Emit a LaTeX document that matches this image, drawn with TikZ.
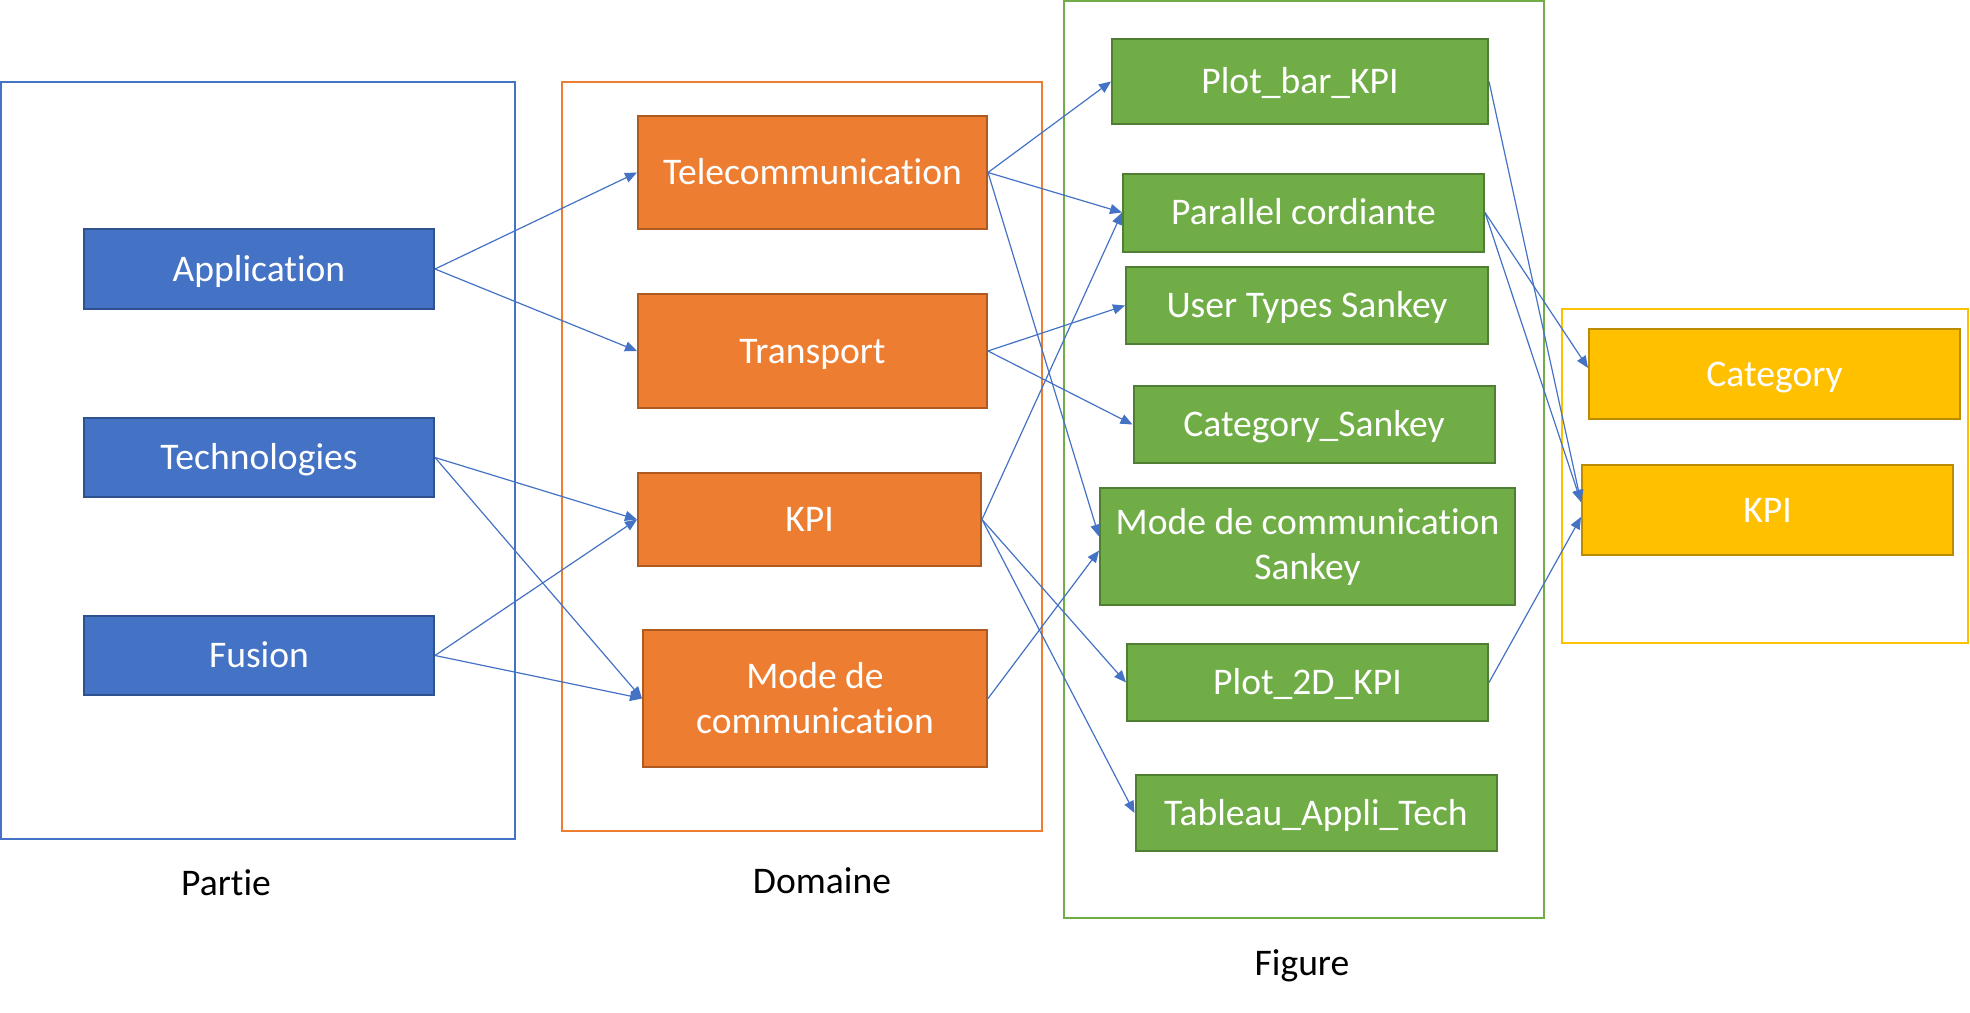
\documentclass[tikz,border=0pt]{standalone}
\usepackage{fontspec}
\setmainfont{Carlito}[Ligatures={NoCommon}]
\usetikzlibrary{arrows.meta}
\definecolor{cblue}{HTML}{4472C4}
\definecolor{cbluedk}{HTML}{2F528F}
\definecolor{corange}{HTML}{ED7D31}
\definecolor{corangedk}{HTML}{AE5A21}
\definecolor{cgreen}{HTML}{70AD47}
\definecolor{cgreendk}{HTML}{507E32}
\definecolor{cyellow}{HTML}{FFC000}
\definecolor{cyellowdk}{HTML}{BC8C00}
\tikzset{
  box/.style={rectangle, line width=1pt, inner sep=0pt, text=white,
    font=\fontsize{18.8}{22.5}\selectfont, align=center},
  oneline/.style={text height=15.1pt, text depth=3pt},
  bfill/.style={fill=cblue, draw=cbluedk},
  ofill/.style={fill=corange, draw=corangedk},
  gfill/.style={fill=cgreen, draw=cgreendk},
  yfill/.style={fill=cyellow, draw=cyellowdk},
  bbox/.style={box, oneline, bfill},
  obox/.style={box, oneline, ofill},
  gbox/.style={box, oneline, gfill},
  ybox/.style={box, oneline, yfill},
  frame/.style={line width=1pt},
  lbl/.style={font=\fontsize{18.8}{22}\selectfont, text=black, inner sep=0pt},
  arr/.style={draw=cblue, line width=0.6pt, -{Triangle[length=6pt,width=5pt]}}
}
\begin{document}
\begin{tikzpicture}[x=0.5pt,y=-0.5pt]
\useasboundingbox (0,0) rectangle (1970,1012);
% frames
\draw[frame, draw=cblue] (1,82) rectangle (515,839);
\draw[frame, draw=corange] (562,82) rectangle (1042,831);
\draw[frame, draw=cgreen] (1064,1) rectangle (1544,918);
\draw[frame, draw=cyellow] (1562,309) rectangle (1968,643);
% blue
\node[bbox, minimum width=175pt, minimum height=40pt] (app) at (259,269) {Application};
\node[bbox, minimum width=175pt, minimum height=39.5pt] (tech) at (259,457.5) {Technologies};
\node[bbox, minimum width=175pt, minimum height=39.5pt] (fus) at (259,655.5) {Fusion};
% orange
\node[obox, minimum width=174.5pt, minimum height=56.5pt] (tel) at (812.5,172.5) {Telecommunication};
\node[obox, minimum width=174.5pt, minimum height=57pt] (tra) at (812.5,351) {Transport};
\node[obox, minimum width=171.5pt, minimum height=46.5pt] (kpi) at (809.5,519.5) {KPI};
\node[box, ofill, minimum width=172pt, minimum height=68.5pt] (mode) at (815,698.5) {Mode de\\communication};
% green
\node[gbox, minimum width=188pt, minimum height=42.5pt] (pbar) at (1300,81.5) {Plot\_bar\_KPI};
\node[gbox, minimum width=180.5pt, minimum height=39pt] (par) at (1303.5,212.5) {Parallel cordiante};
\node[gbox, minimum width=181pt, minimum height=38.5pt] (uts) at (1307,305.5) {User Types Sankey};
\node[gbox, minimum width=180.5pt, minimum height=38.5pt] (cats) at (1314,424.5) {Category\_Sankey};
\node[box, gfill, minimum width=207.5pt, minimum height=58.5pt] (msk) at (1307.5,546.5) {Mode de communication\\Sankey};
\node[gbox, minimum width=180.5pt, minimum height=38.5pt] (p2d) at (1307.5,682.5) {Plot\_2D\_KPI};
\node[gbox, minimum width=180.5pt, minimum height=38pt] (tab) at (1316,813) {Tableau\_Appli\_Tech};
% yellow
\node[ybox, minimum width=185.5pt, minimum height=45pt] (ycat) at (1774.5,374) {Category};
\node[ybox, minimum width=185.5pt, minimum height=45pt] (ykpi) at (1767.5,510) {KPI};
% labels
\node[lbl] (lpartie) at (226,883) {Partie};
\node[lbl] (ldomaine) at (822,881) {Domaine};
\node[lbl] (lfigure) at (1302,966) {Figure};
% connectors
\draw[arr] (app.east) -- (tel.west);
\draw[arr] (app.east) -- (tra.west);
\draw[arr] (tech.east) -- (kpi.west);
\draw[arr] (tech.east) -- (mode.west);
\draw[arr] (fus.east) -- (kpi.west);
\draw[arr] (fus.east) -- (mode.west);
\draw[arr] (tel.east) -- (pbar.west);
\draw[arr] (tel.east) -- (par.west);
\draw[arr] (tel.east) -- ([yshift=5pt]msk.west);
\draw[arr] (tra.east) -- (uts.west);
\draw[arr] (tra.east) -- (cats.west);
\draw[arr] (kpi.east) -- (par.west);
\draw[arr] (kpi.east) -- (p2d.west);
\draw[arr] (kpi.east) -- (tab.west);
\draw[arr] (mode.east) -- ([yshift=-2pt]msk.west);
\draw[arr] (pbar.east) -- ([yshift=4pt]ykpi.west);
\draw[arr] (par.east) -- ([yshift=3pt]ycat.west);
\draw[arr] (par.east) -- ([yshift=4pt]ykpi.west);
\draw[arr] (p2d.east) -- ([yshift=-3.5pt]ykpi.west);
\end{tikzpicture}
\end{document}
